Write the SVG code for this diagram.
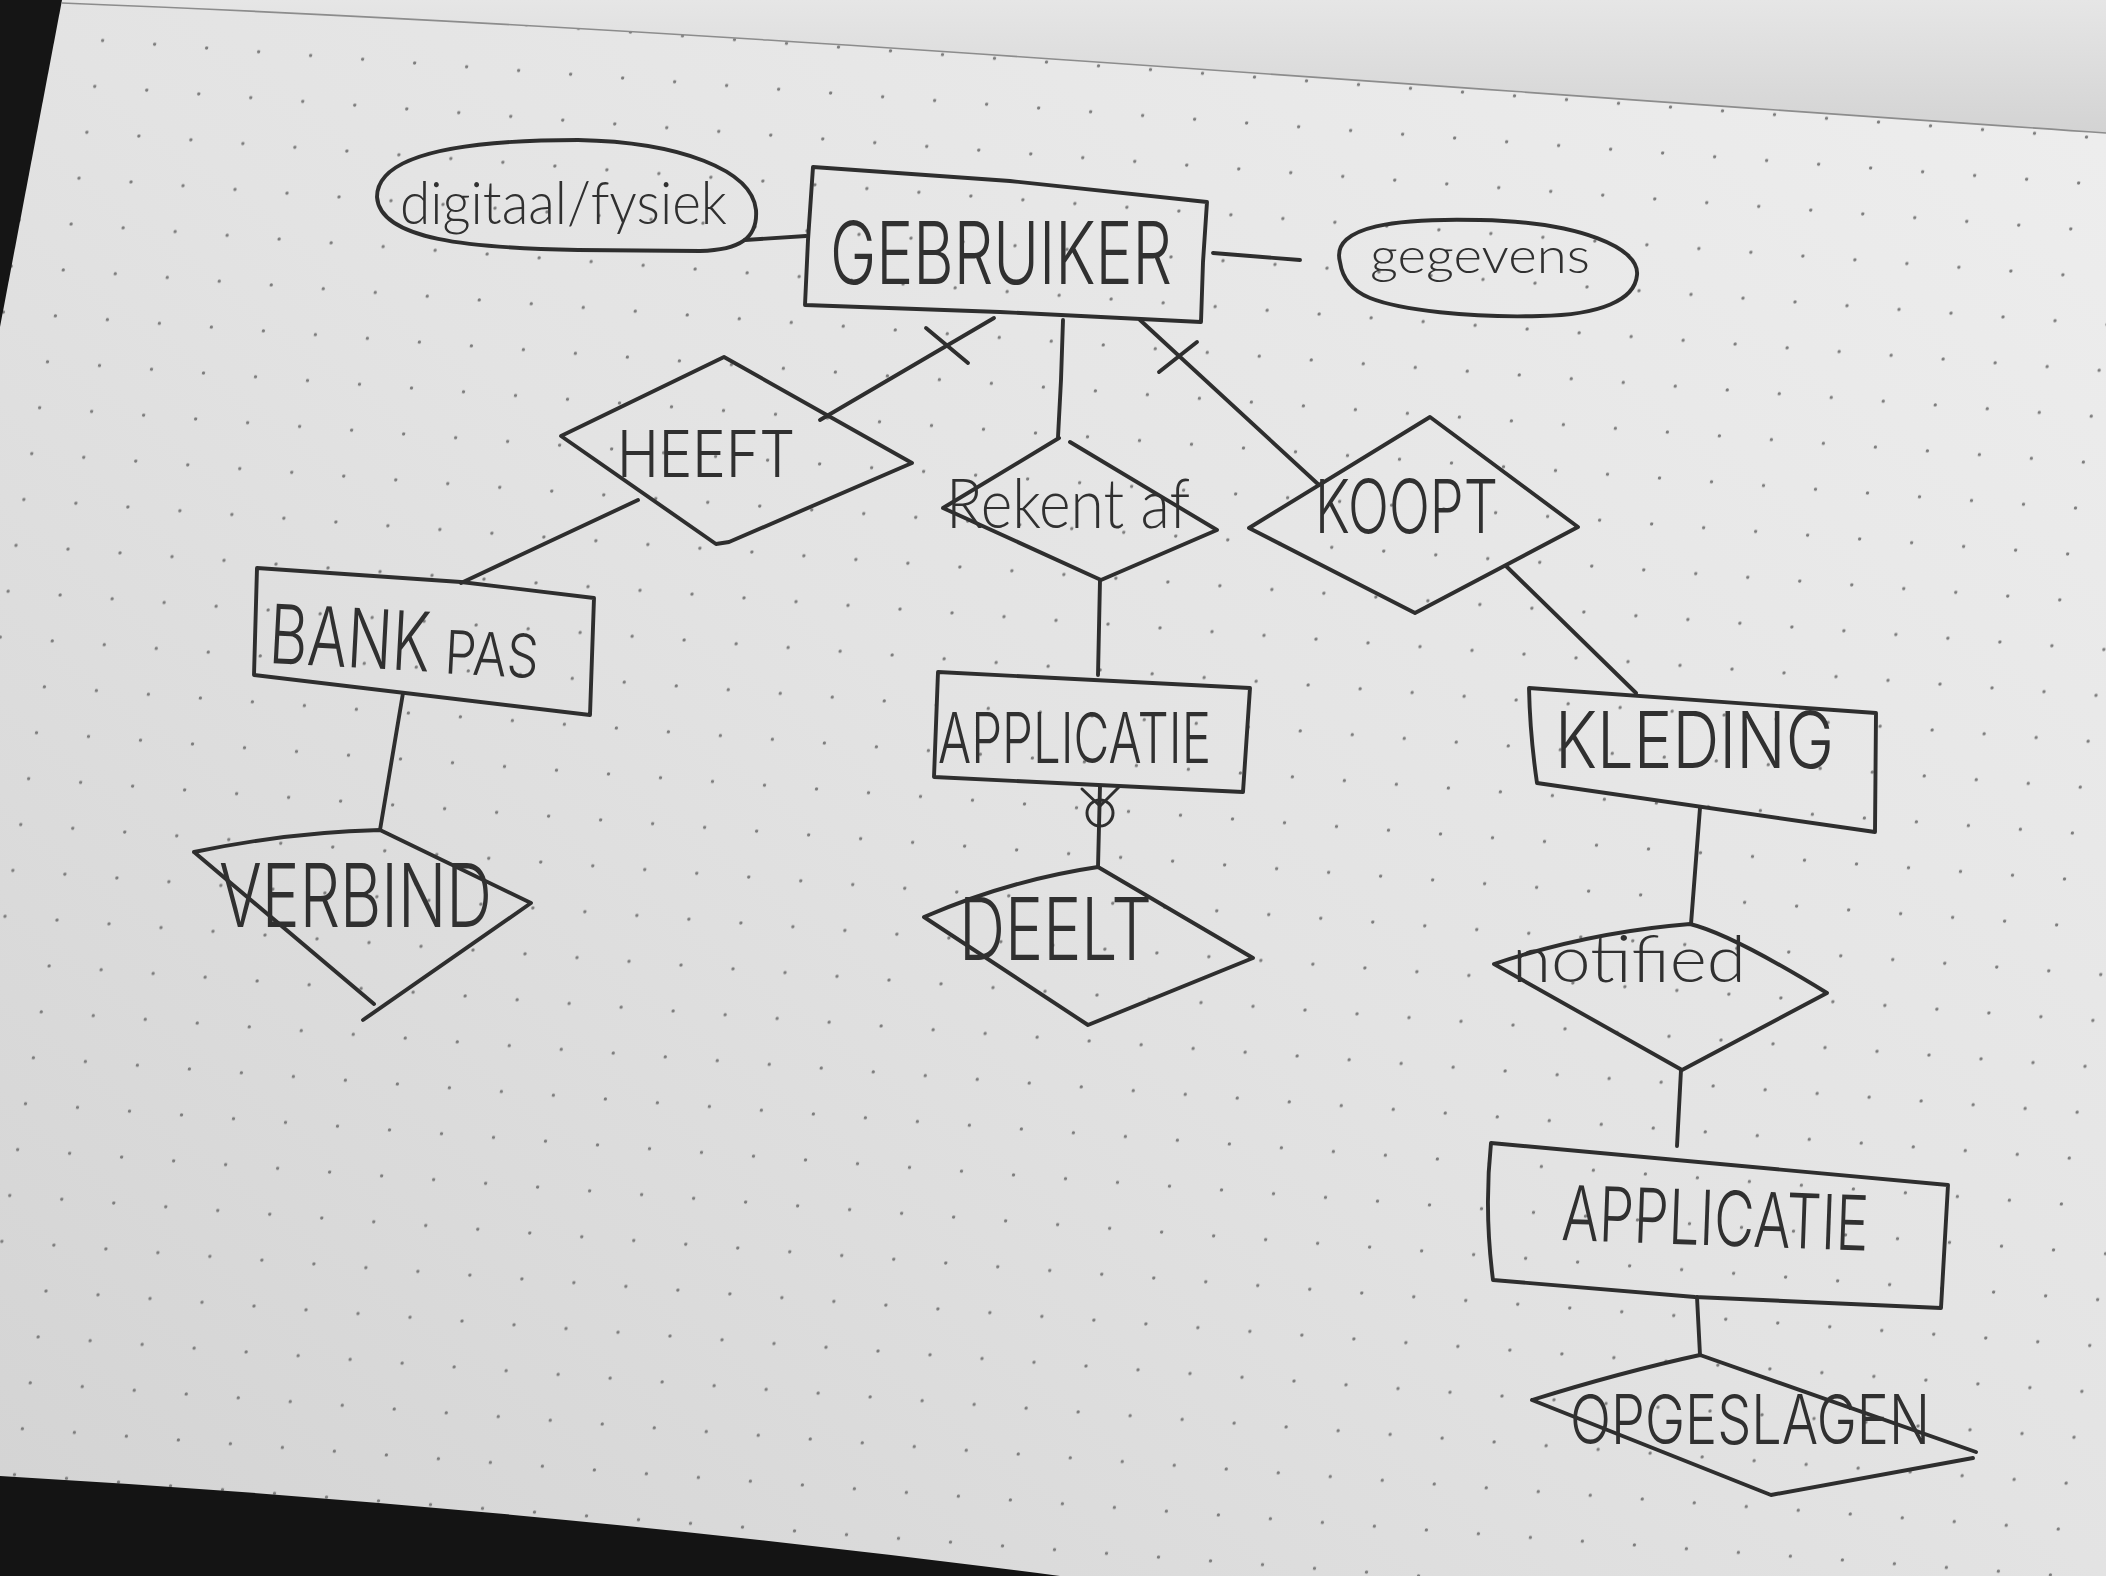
<svg xmlns="http://www.w3.org/2000/svg" width="2106" height="1576" viewBox="0 0 2106 1576">
<style>
.ink{fill:none;stroke:#2e2e2e;stroke-width:3.9;stroke-linecap:round;stroke-linejoin:round}
.thin{stroke-width:3}
.txt{font-family:"Inter","Lato","Open Sans","Liberation Sans",sans-serif;font-weight:300;fill:#303030}
.hand{font-family:"Lato","Inter","Open Sans","Liberation Sans",sans-serif;font-weight:300;fill:#303030}
</style>
<defs>
<linearGradient id="paper" x1="0" y1="1" x2="1" y2="0">
<stop offset="0" stop-color="#d3d3d3"/>
<stop offset="0.5" stop-color="#e3e3e3"/>
<stop offset="1" stop-color="#eeeeee"/>
</linearGradient>
<linearGradient id="upper" x1="0" y1="0" x2="0" y2="1">
<stop offset="0" stop-color="#e6e6e6"/>
<stop offset="1" stop-color="#d3d3d3"/>
</linearGradient>
<pattern id="dots" patternUnits="userSpaceOnUse" width="50" height="45" patternTransform="matrix(1.04 0.075 -0.175 1.02 124.6 65.8)">
<circle cx="25" cy="22" r="1.6" fill="#7c7c7c"/>
</pattern>
</defs>

<g id="background">
<rect x="0" y="0" width="2106" height="1576" fill="url(#paper)"/>
<rect x="0" y="0" width="2106" height="1576" fill="url(#dots)"/>
<path d="M62,0 L2106,0 L2106,133 C1300,78 700,28 62,3 Z" fill="url(#upper)"/>
<path d="M62,3 C700,28 1300,78 2106,133" fill="none" stroke="#8c8c8c" stroke-width="1.6"/>
<path d="M0,0 L62,0 L0,327 Z" fill="#151515"/>
<path d="M0,1476 Q520,1506 1060,1576 L0,1576 Z" fill="#141414"/>
</g>

<g id="connectors">
<path id="c-digitaal-gebruiker" class="ink" d="M745,240 L806,236"/>
<path id="c-gebruiker-gegevens" class="ink" d="M1213,253 L1300,260"/>
<path id="c-gebruiker-heeft" class="ink" d="M994,318 L820,420"/>
<path id="c-gebruiker-heeft-tick" class="ink" d="M926,328 L968,363"/>
<path id="c-gebruiker-rekent" class="ink" d="M1063,320 L1061,380 L1058,437"/>
<path id="c-gebruiker-koopt" class="ink" d="M1140,320 L1319,485"/>
<path id="c-gebruiker-koopt-tick" class="ink" d="M1197,342 L1159,372"/>
<path id="c-heeft-bankpas" class="ink" d="M638,500 L461,583"/>
<path id="c-bankpas-verbind" class="ink" d="M403,693 L380,830"/>
<path id="c-rekent-applicatie" class="ink" d="M1100,580 L1098,675"/>
<path id="c-applicatie-deelt" class="ink" d="M1100,786 L1098,867"/>
<circle id="c-applicatie-deelt-zero" class="ink thin" cx="1100" cy="813" r="13"/>
<path id="c-applicatie-deelt-many" class="ink thin" d="M1082,789 L1100,806 L1119,787"/>
<path id="c-koopt-kleding" class="ink" d="M1506,566 L1636,693"/>
<path id="c-kleding-notified" class="ink" d="M1700,808 L1691,924"/>
<path id="c-notified-applicatie" class="ink" d="M1681,1070 L1677,1146"/>
<path id="c-applicatie-opgeslagen" class="ink" d="M1697,1297 L1700,1355"/>
</g>

<g id="n-digitaal">
<path class="ink" d="M377,197 C377,160 440,140 578,140 C680,142 752,170 756,210 C758,238 740,250 700,251 L578,250 C470,248 380,240 377,197 Z"/>
<text class="hand" x="400" y="224" font-size="60" textLength="327" lengthAdjust="spacingAndGlyphs">digitaal/fysiek</text>
</g>

<g id="n-gebruiker">
<path class="ink" d="M813,167 L1010,181 L1207,202 L1203,262 L1201,322 L1000,312 L805,305 L808,240 Z"/>
<text class="txt" x="830" y="284" font-size="86" textLength="342" lengthAdjust="spacingAndGlyphs">GEBRUIKER</text>
</g>

<g id="n-gegevens">
<path class="ink" d="M1340,262 C1330,225 1400,218 1480,220 C1580,222 1640,248 1637,275 C1635,300 1600,315 1540,316 C1470,318 1400,310 1370,298 C1350,290 1342,276 1340,262 Z"/>
<text class="hand" x="1370" y="273" font-size="50" textLength="220" lengthAdjust="spacingAndGlyphs">gegevens</text>
</g>

<g id="n-heeft">
<path class="ink" d="M724,357 L912,463 L729,542 L716,544 L561,436 Z"/>
<text class="txt" x="617" y="477" font-size="64" textLength="178" lengthAdjust="spacingAndGlyphs">HEEFT</text>
</g>

<g id="n-rekent">
<path class="ink" d="M1070,442 L1217,530 L1101,580 L943,508 L1059,438"/>
<text class="hand" x="946" y="528" font-size="68" textLength="244" lengthAdjust="spacingAndGlyphs">Rekent af</text>
</g>

<g id="n-koopt">
<path class="ink" d="M1430,417 L1578,527 L1415,613 L1249,528 Z"/>
<text class="txt" x="1315" y="533" font-size="74" textLength="183" lengthAdjust="spacingAndGlyphs">KOOPT</text>
</g>

<g id="n-bankpas">
<path class="ink" d="M257,568 L461,582 L594,598 L590,715 L254,675 Z"/>
<text class="txt" transform="rotate(3 268 663)"><tspan x="268" y="663" font-size="82" textLength="161" lengthAdjust="spacingAndGlyphs">BANK</tspan><tspan x="444" y="664" font-size="60" textLength="94" lengthAdjust="spacingAndGlyphs">PAS</tspan></text>
</g>

<g id="n-verbind">
<path class="ink" d="M380,830 L531,903 L363,1020 M194,852 L374,1004 M194,852 Q290,832 380,830"/>
<text class="txt" x="219" y="927" font-size="88" textLength="273" lengthAdjust="spacingAndGlyphs">VERBIND</text>
</g>

<g id="n-applicatie1">
<path class="ink" d="M938,672 L1250,688 L1243,792 L934,777 Z"/>
<text class="txt" x="938" y="763" font-size="70" textLength="273" lengthAdjust="spacingAndGlyphs">APPLICATIE</text>
</g>

<g id="n-deelt">
<path class="ink" d="M924,917 Q1010,880 1098,867 L1253,958 L1088,1025 Z"/>
<text class="txt" x="959" y="960" font-size="86" textLength="193" lengthAdjust="spacingAndGlyphs">DEELT</text>
</g>

<g id="n-kleding">
<path class="ink" d="M1529,688 L1876,713 L1875,832 L1537,783 Q1530,735 1529,688 Z"/>
<text class="txt" x="1555" y="768" font-size="79" textLength="279" lengthAdjust="spacingAndGlyphs">KLEDING</text>
</g>

<g id="n-notified">
<path class="ink" d="M1494,964 Q1590,932 1690,924 Q1731,934 1827,993 L1682,1070 Z"/>
<text class="hand" x="1512" y="982" font-size="66" textLength="234" lengthAdjust="spacingAndGlyphs">notified</text>
</g>

<g id="n-applicatie2">
<path class="ink" d="M1491,1143 L1948,1185 L1941,1308 L1695,1297 L1493,1280 Q1484,1210 1491,1143 Z"/>
<text class="txt" x="1561" y="1240" font-size="76" textLength="307" lengthAdjust="spacingAndGlyphs" transform="rotate(2 1561 1240)">APPLICATIE</text>
</g>

<g id="n-opgeslagen">
<path class="ink" d="M1532,1400 Q1622,1372 1700,1355 L1976,1452 M1973,1458 L1771,1495 L1532,1400"/>
<text class="txt" x="1570" y="1444" font-size="68" textLength="360" lengthAdjust="spacingAndGlyphs">OPGESLAGEN</text>
</g>
</svg>
